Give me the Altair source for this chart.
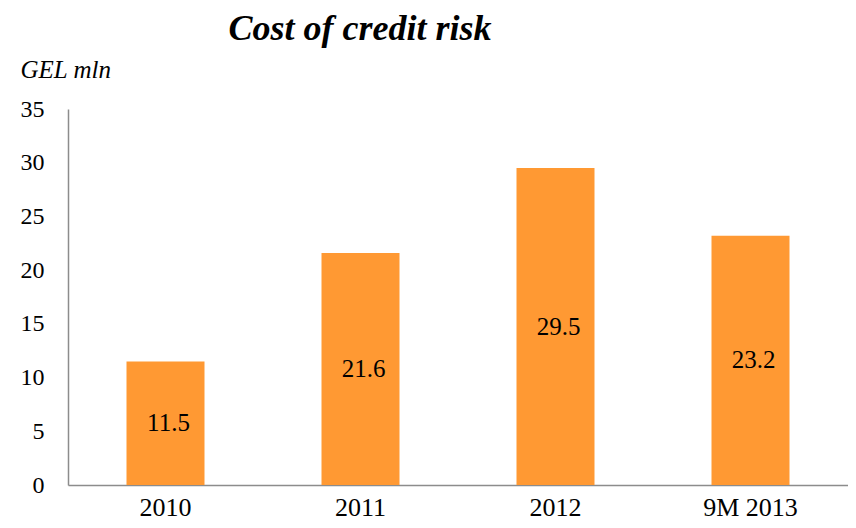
import altair as alt
import pandas as pd

categories = ["2010", "2011", "2012", "9M 2013"]
values = [11.5, 21.6, 29.5, 23.2]
labels = ["11.5", "21.6", "29.5", "23.2"]
y_ticks = [0, 5, 10, 15, 20, 25, 30, 35]

df = pd.DataFrame({"cat": categories, "val": values, "lab": labels})

FONT = "Liberation Serif"

x_axis = alt.Axis(
    title=None, labelAngle=0, ticks=False, labelPadding=9,
    labelFont=FONT, labelFontSize=26, labelColor="black",
    domainColor="#8c8c8c", domainWidth=1.5,
)
y_axis = alt.Axis(
    title="GEL mln", titleAngle=0, titleAlign="left", titleBaseline="alphabetic",
    titleX=-48, titleY=-32, titleFont=FONT, titleFontSize=25,
    titleFontStyle="italic", titleFontWeight="normal", titleColor="black",
    values=y_ticks, grid=False, ticks=False, labelPadding=24,
    labelFont=FONT, labelFontSize=24, labelColor="black",
    domainColor="#8c8c8c", domainWidth=1.5,
)
x_scale = alt.Scale(paddingInner=0.6, paddingOuter=0.3)
y_scale = alt.Scale(domain=[0, 35], nice=False)

bars = alt.Chart(df).mark_bar(color="#FF9933").encode(
    x=alt.X("cat:N", sort=categories, scale=x_scale, axis=x_axis),
    y=alt.Y("val:Q", scale=y_scale, axis=y_axis),
)

text = alt.Chart(df).transform_calculate(mid="datum.val / 2").mark_text(
    font=FONT, fontSize=25, fontStyle="normal", fontWeight="normal",
    color="black", baseline="middle", dx=3
).encode(
    x=alt.X("cat:N", sort=categories, scale=x_scale, axis=x_axis),
    y=alt.Y("mid:Q", scale=y_scale, axis=y_axis),
    text="lab:N",
)

chart = alt.layer(bars, text).properties(
    width=780,
    height=376,
    title=alt.Title(
        "Cost of credit risk", anchor="middle", frame="group", dx=-98,
        font=FONT, fontSize=36, fontStyle="italic", fontWeight="bold",
        color="black", offset=9,
    ),
    autosize=alt.AutoSizeParams(type="none"),
    padding={"left": 60, "top": 101, "right": 0, "bottom": 35},
).configure(font=FONT).configure_axis(
    labelFont=FONT, titleFont=FONT
).configure_text(font=FONT).configure_title(font=FONT).configure_view(stroke=None)

chart.save("out.html", embed_options={"renderer": "svg", "actions": False})
